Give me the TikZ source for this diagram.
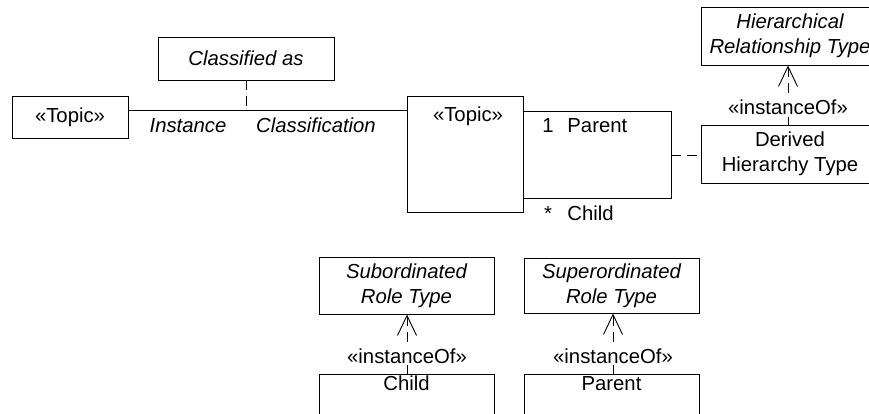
\documentclass[tikz,border=0pt]{standalone}
\usepackage{fontspec}
\setmainfont{Liberation Sans}
\usetikzlibrary{arrows.meta}
\begin{document}
\begin{tikzpicture}[x=1pt,y=-1pt, line width=0.9pt,
  rm/.style={font=\fontsize{20.3}{25}\selectfont},
  itf/.style={font=\fontsize{20.3}{25}\selectfont\itshape},
  box/.style={draw, rectangle, inner sep=0pt, align=center, rm},
  ibox/.style={draw, rectangle, inner sep=0pt, align=center, itf},
  lbl/.style={inner sep=0pt, rm},
  ilbl/.style={inner sep=0pt, itf},
  dsh/.style={dash pattern=on 10pt off 6pt},
  inst/.style={dsh, -{Straight Barb[length=20pt,width=19pt,line width=0.9pt]}},
  stereo/.style={rm, fill=white, inner sep=2pt, anchor=base}
  ]
\useasboundingbox (0,0) rectangle (869,414);

% top left
\node[ibox, minimum width=176pt, minimum height=43pt] (cls) at (246,58.5) {Classified as};
\node[box, minimum width=116pt, minimum height=42pt] (t1) at (70,117) {«Topic»};
\node[box, minimum width=116pt, minimum height=116pt] (t2) at (465,154) {};
\node[lbl, anchor=base] (t2l) at (468,122) {«Topic»};
\coordinate (ya) at (0,110);
\draw (t1.east|-ya) -- (t2.west|-ya);
\draw[dsh] (cls.south) -- (cls.south|-ya);
\node[ilbl, anchor=base] (inst) at (188,133) {Instance};
\node[ilbl, anchor=base] (clsf) at (316,133) {Classification};

% self loop
\coordinate (lp1) at (671,111);
\coordinate (lp2) at (671,198);
\coordinate (lpm) at (671,155);
\draw (t2.east|-lp1) -- (lp1) -- (lp2) -- (t2.east|-lp2);
\node[lbl, anchor=base] (one) at (548,133) {1};
\node[lbl, anchor=base west] (par) at (567,133) {Parent};
\node[lbl, anchor=base] (star) at (548,220) {*};
\node[lbl, anchor=base west] (chl) at (567,220) {Child};

% right boxes
\node[box, minimum width=178pt, minimum height=58pt] (der) at (790,154) {Derived\\Hierarchy Type};
\node[ibox, minimum width=178pt, minimum height=58pt] (hrt) at (790,36) {Hierarchical\\Relationship Type};
\draw[dsh] (lpm) -- (der.west|-lpm);
\coordinate (a1) at (788,0);
\draw[inst] (der.north-|a1) -- (hrt.south-|a1);
\node[stereo] (io1) at (788,115) {«instanceOf»};

% bottom boxes
\node[ibox, minimum width=175pt, minimum height=57pt] (sub) at (406.5,285.5) {Subordinated\\Role Type};
\node[ibox, minimum width=175pt, minimum height=55pt] (sup) at (611.5,285.5) {Superordinated\\Role Type};
\node[box, minimum width=175pt, minimum height=76pt] (chb) at (406.5,412) {};
\node[box, minimum width=175pt, minimum height=76pt] (pab) at (611.5,412) {};
\node[lbl, anchor=base] (chbl) at (406.5,390) {Child};
\node[lbl, anchor=base] (pabl) at (611.5,390) {Parent};
\coordinate (a2) at (407,0);
\coordinate (a3) at (613,0);
\draw[inst] (chb.north-|a2) -- (sub.south-|a2);
\draw[inst] (pab.north-|a3) -- (sup.south-|a3);
\node[stereo] (io2) at (407,363) {«instanceOf»};
\node[stereo] (io3) at (613,363) {«instanceOf»};
\end{tikzpicture}
\end{document}
